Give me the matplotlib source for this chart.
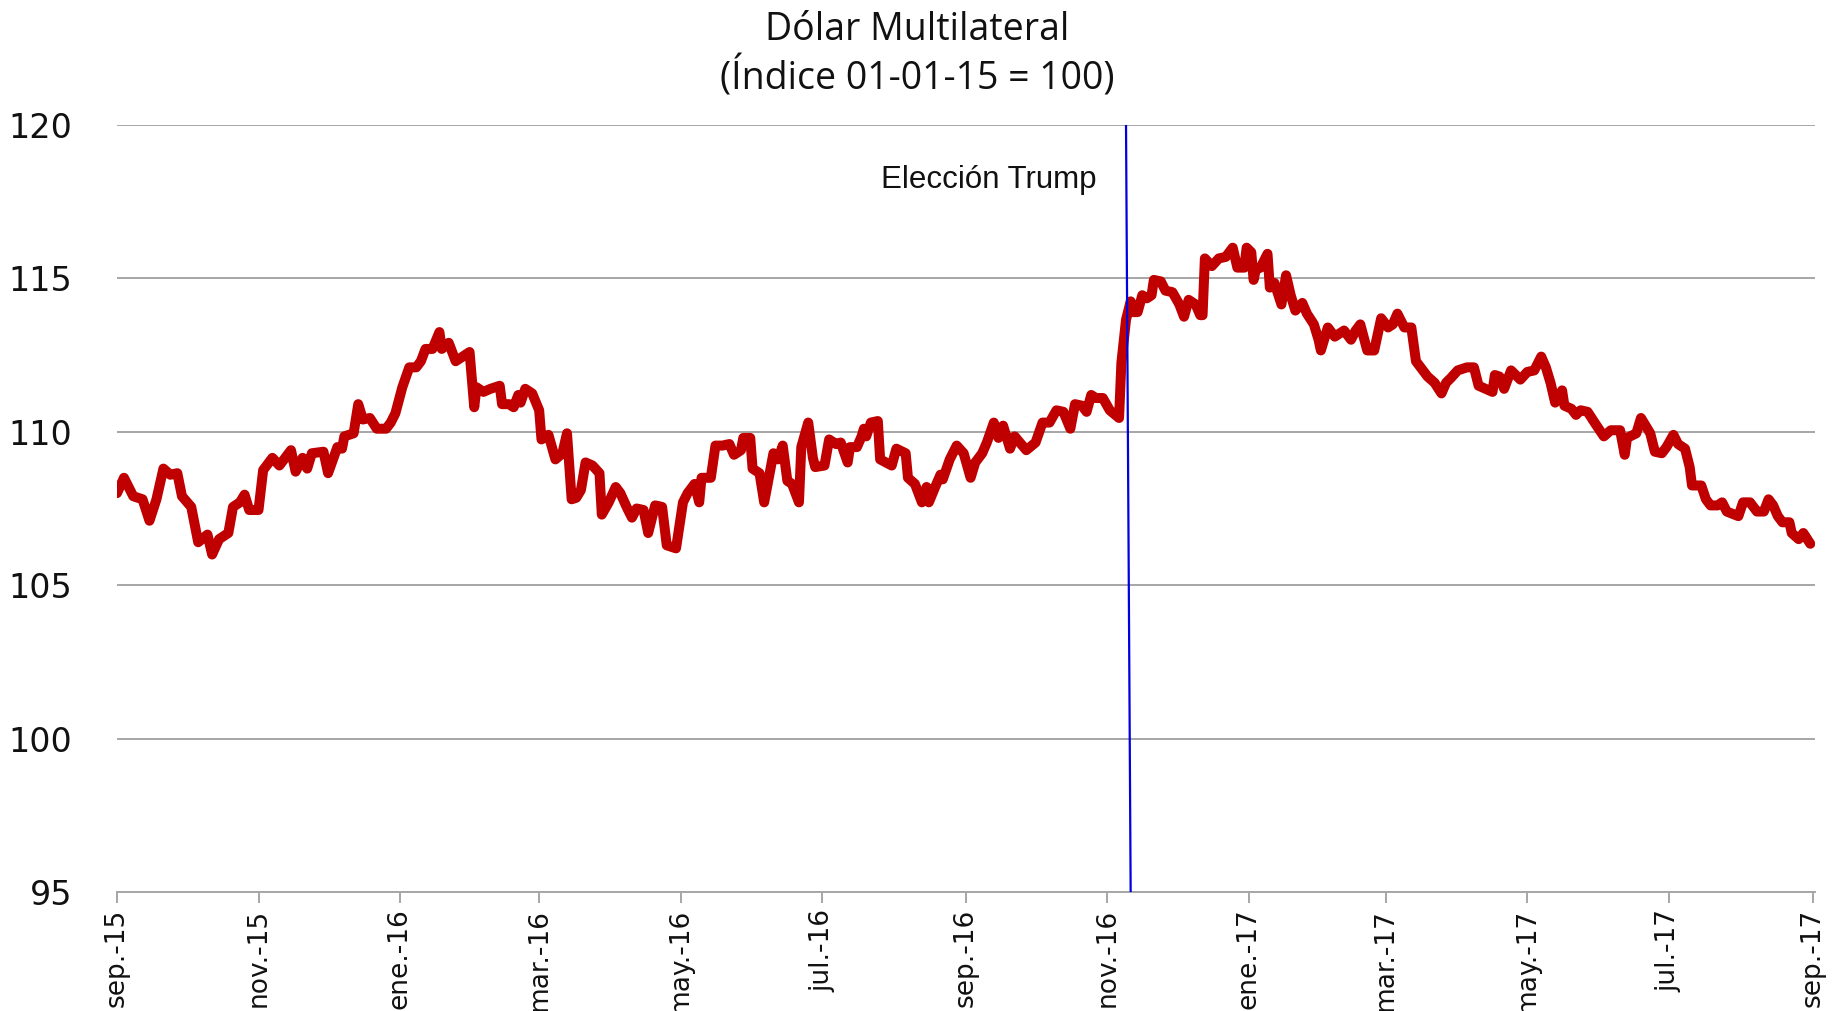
import matplotlib
matplotlib.use("Agg")
import matplotlib.pyplot as plt
import pandas as pd

# Multilateral dollar index (01-01-15 = 100); days elapsed since 2015-09-01
start_date = "2015-09-01"
day = [0, 3, 5, 7, 11, 14, 17, 20, 23, 26, 28, 32, 35, 39, 41, 44, 48, 50, 53, 55,
       57, 61, 63, 67, 70, 75, 77, 80, 82, 84, 89, 91, 95, 97, 98, 102, 104, 106, 109, 112,
       116, 118, 120, 123, 126, 129, 131, 133, 136, 139, 140, 143, 146, 149, 152, 154, 155, 158, 161, 165,
       166, 169, 171, 173, 174, 176, 179, 182, 183, 186, 189, 192, 194, 196, 198, 200, 202, 205, 208, 209,
       212, 215, 217, 220, 222, 224, 227, 229, 232, 235, 237, 241, 244, 246, 249, 251, 252, 256, 258, 261,
       264, 266, 269, 270, 273, 274, 277, 279, 281, 283, 285, 287, 289, 291, 294, 295, 298, 300, 301, 305,
       307, 310, 312, 315, 316, 319, 321, 322, 323, 325, 328, 329, 334, 336, 340, 341, 344, 347, 349, 350,
       353, 355, 356, 359, 362, 365, 368, 370, 373, 375, 378, 380, 382, 385, 387, 392, 396, 399, 402, 405,
       408, 411, 413, 416, 418, 420, 422, 425, 428, 432, 433, 435, 437, 438, 440, 442, 444, 446, 447, 450,
       452, 455, 458, 460, 462, 465, 467, 468, 469, 472, 475, 478, 479, 481, 483, 486, 487, 489, 490, 491,
       493, 496, 497, 499, 502, 504, 506, 508, 511, 513, 516, 518, 519, 522, 525, 529, 532, 534, 536, 539,
       542, 545, 548, 550, 552, 555, 558, 560, 562, 565, 568, 571, 573, 575, 578, 582, 585, 587, 590, 593,
       594, 596, 598, 601, 605, 608, 611, 614, 616, 618, 620, 623, 624, 627, 629, 631, 634, 637, 641, 644,
       648, 650, 651, 655, 657, 659, 661, 663, 666, 668, 671, 673, 676, 678, 679, 683, 685, 687, 690, 692,
       694, 699, 701, 704, 707, 710, 712, 714, 716, 718, 721, 722, 725, 727, 730]
index = [108.0, 108.5, 108.2, 107.9, 107.8, 107.1, 107.8, 108.8, 108.6, 108.65, 107.9, 107.55, 106.4, 106.65, 106.0, 106.5, 106.7, 107.55, 107.7, 107.95,
         107.45, 107.45, 108.75, 109.15, 108.9, 109.4, 108.7, 109.15, 108.8, 109.3, 109.35, 108.65, 109.5, 109.45, 109.85, 109.95, 110.9, 110.4, 110.45, 110.1,
         110.1, 110.3, 110.6, 111.45, 112.1, 112.1, 112.3, 112.7, 112.7, 113.25, 112.7, 112.9, 112.3, 112.45, 112.6, 110.8, 111.45, 111.3, 111.4, 111.5,
         110.9, 110.9, 110.8, 111.2, 110.95, 111.4, 111.25, 110.7, 109.75, 109.9, 109.1, 109.3, 109.95, 107.8, 107.85, 108.1, 109.0, 108.9, 108.65, 107.3,
         107.7, 108.2, 108.0, 107.5, 107.2, 107.5, 107.45, 106.7, 107.6, 107.55, 106.3, 106.2, 107.7, 108.0, 108.3, 107.7, 108.5, 108.5, 109.55, 109.55,
         109.6, 109.25, 109.4, 109.8, 109.8, 108.8, 108.65, 107.7, 108.5, 109.3, 109.1, 109.55, 108.4, 108.3, 107.7, 109.5, 110.3, 109.15, 108.85, 108.9,
         109.75, 109.6, 109.65, 109.0, 109.5, 109.5, 109.85, 110.1, 109.85, 110.3, 110.35, 109.1, 108.9, 109.45, 109.3, 108.5, 108.3, 107.7, 108.2, 107.7,
         108.25, 108.6, 108.45, 109.1, 109.55, 109.3, 108.5, 109.0, 109.3, 109.65, 110.3, 109.8, 110.2, 109.45, 109.85, 109.4, 109.65, 110.3, 110.3, 110.7,
         110.65, 110.1, 110.9, 110.85, 110.65, 111.2, 111.1, 111.1, 110.7, 110.45, 112.25, 113.65, 114.25, 113.9, 113.9, 114.45, 114.35, 114.45, 114.95, 114.9,
         114.6, 114.55, 114.15, 113.75, 114.3, 114.15, 113.8, 113.8, 115.65, 115.4, 115.65, 115.7, 115.8, 116.0, 115.35, 115.35, 116.0, 115.85, 114.95, 115.3,
         115.35, 115.8, 114.7, 114.85, 114.15, 115.1, 114.45, 113.95, 114.2, 113.85, 113.5, 113.0, 112.65, 113.4, 113.1, 113.3, 113.0, 113.3, 113.5, 112.65,
         112.65, 113.7, 113.4, 113.5, 113.85, 113.4, 113.4, 112.3, 112.1, 111.8, 111.6, 111.25, 111.6, 111.75, 112.0, 112.1, 112.1, 111.5, 111.4, 111.3,
         111.85, 111.8, 111.4, 112.0, 111.7, 111.95, 112.0, 112.45, 112.1, 111.6, 110.95, 111.35, 110.85, 110.75, 110.55, 110.7, 110.65, 110.3, 109.85, 110.05,
         110.05, 109.25, 109.8, 109.95, 110.45, 110.2, 109.95, 109.35, 109.3, 109.5, 109.9, 109.6, 109.45, 108.85, 108.25, 108.25, 107.8, 107.6, 107.6, 107.7,
         107.4, 107.25, 107.7, 107.7, 107.4, 107.4, 107.8, 107.6, 107.25, 107.05, 107.05, 106.7, 106.5, 106.7, 106.35]

tick_dates = ["2015-09-01", "2015-11-01", "2016-01-01", "2016-03-01", "2016-05-01", "2016-07-01",
              "2016-09-01", "2016-11-01", "2017-01-01", "2017-03-01", "2017-05-01", "2017-07-01",
              "2017-09-01"]
tick_labels = ["sep.-15", "nov.-15", "ene.-16", "mar.-16", "may.-16", "jul.-16",
               "sep.-16", "nov.-16", "ene.-17", "mar.-17", "may.-17", "jul.-17", "sep.-17"]
y_ticks = [95, 100, 105, 110, 115, 120]

election_line = ["2016-11-09", "2016-11-11"]
election_label = "Elección Trump"

dates = pd.Timestamp(start_date) + pd.to_timedelta(day, unit="D")

fig = plt.figure(figsize=(18.34, 10.11), dpi=100)
ax = fig.add_axes([0.0638, 0.1177, 0.9258, 0.7587])

grid_col = "#a6a6a6"
for yv in y_ticks:
    ax.axhline(yv, color=grid_col, lw=1.4, zorder=1)

ax.plot(dates, index, color="#c00000", lw=7.2, solid_joinstyle="round",
        solid_capstyle="round", zorder=3)

# Election-day marker and its caption
ax.plot(pd.to_datetime(election_line), [120, 95], color="#0000e0", lw=1.6, zorder=4)
ax.text(pd.Timestamp("2016-09-11"), 118.2, election_label, ha="center", va="center",
        fontsize=22.5, family="Liberation Sans", color="#111111")

ax.set_xlim(pd.Timestamp("2015-09-01"), pd.Timestamp("2017-09-02"))
ax.set_ylim(95, 120)

ax.set_xticks(pd.to_datetime(tick_dates))
ax.set_xticklabels(tick_labels, rotation=90, fontsize=19, family="DejaVu Sans",
                   color="#111111")
ax.set_yticks(y_ticks)
ax.set_yticklabels([str(v) for v in y_ticks], fontsize=24, family="DejaVu Sans",
                   color="#111111")

ax.tick_params(axis="x", direction="out", length=8, width=1.4, color=grid_col, pad=4)
ax.tick_params(axis="y", length=0, pad=32)

for side in ["top", "right", "left"]:
    ax.spines[side].set_visible(False)
ax.spines["bottom"].set_color(grid_col)
ax.spines["bottom"].set_linewidth(1.4)

fig.text(0.5, 0.970, "Dólar Multilateral", ha="center", va="center",
         fontsize=27, family="Open Sans", color="#111111")
fig.text(0.5, 0.923, "(Índice 01-01-15 = 100)", ha="center", va="center",
         fontsize=27, family="Open Sans", color="#111111")

fig.savefig("out.png", dpi=100)
